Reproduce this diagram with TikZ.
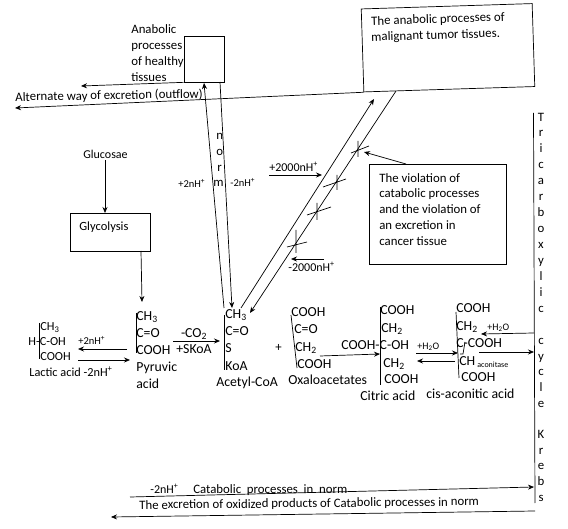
\documentclass[tikz,border=0pt]{standalone}
\usepackage{fontspec}
\setmainfont{Carlito}
\usepackage{tikz}
\usetikzlibrary{arrows.meta, positioning, calc}
\newcommand{\sbs}[1]{\textsubscript{#1}}
\newcommand{\nHp}{nH\textsuperscript{+}}

\begin{document}
\begin{tikzpicture}[>=Stealth, x=1pt, y=-1pt, line width=0.7pt,
    txt/.style={anchor=west, inner sep=0pt, text height=8pt, text depth=2.5pt, yshift=-1.5pt, font=\fontsize{12.8}{14}\selectfont},
    chem/.style={txt, font=\fontsize{13.8}{15}\selectfont},
    lac/.style={txt, font=\fontsize{12.3}{14}\selectfont},
    small/.style={txt, font=\fontsize{10.5}{12}\selectfont},
    water/.style={txt, font=\fontsize{10}{11}\selectfont},
    wide/.style={txt, font=\fontsize{12}{14}\selectfont},
    tiny/.style={txt, font=\fontsize{8}{9}\selectfont},
    box/.style={draw, inner sep=0pt},
    arr/.style={->, >={Stealth[length=6pt, width=5pt]}}]
  \useasboundingbox (0,0) rectangle (568,529);

  % boxes
  \node[box, minimum width=40pt, minimum height=46pt] (healthy) at (204,59) {};
  \node[box, minimum width=171pt, minimum height=83pt, rotate=1.8] (malignant) at (448,47.75) {};
  \node[box, minimum width=80pt, minimum height=38pt] (glycolysis) at (110,232) {};
  \node[box, minimum width=137pt, minimum height=100pt] (violation) at (438,214) {};

  % box texts
  \node[txt] (t1) at (131,29) {Anabolic};
  \node[txt] (t2) at (131,45) {processes};
  \node[txt] (t3) at (131,61) {of healthy};
  \node[txt] (t4) at (131,77) {tissues};
  \node[txt, rotate=1.8] (t5) at (371,21) {The anabolic processes of};
  \node[txt, rotate=1.8] (t6) at (371,37) {malignant tumor tissues.};
  \node[wide, font=\fontsize{12.5}{14}\selectfont] (t7) at (79,226) {Glycolysis};
  \node[txt] (t8) at (379,178) {The violation of};
  \node[txt] (t9) at (379,193) {catabolic processes};
  \node[txt] (t10) at (379,209) {and the violation of};
  \node[txt] (t11) at (379,225) {an excretion in};
  \node[txt] (t12) at (379,241) {cancer tissue};

  \node[txt, rotate=1] (outflow) at (15,97) {Alternate way of excretion (outflow)};
  \node[wide] (glucose) at (83,154) {Glucosae};

  % norm column
  \node[txt] (n1) at (216,135) {n};
  \node[txt] (n2) at (216,151) {o};
  \node[txt] (n3) at (217,167) {r};
  \node[txt] (n4) at (213,182) {m};
  \node[small] (plustwo) at (178,183) {+2\nHp};
  \node[small] (minustwo) at (230,182) {-2\nHp};
  \node[wide] (plusk) at (269,167) {+2000\nHp};
  \node[wide] (minusk) at (288,267) {-2000\nHp};

  % Tricarboxylic cycle Krebs
  \foreach \ltr/\yy in {T/117, r/132, i/148, c/164, a/180, r/196, b/212, o/228, x/244, y/260, l/276, i/292, c/308,
      c/340, y/356, c/371, l/387, e/403, K/434, r/450, e/465, b/481, s/497}
    \node[txt, anchor=center] at (541,\yy) {\ltr};

  % lactic acid
  \node[lac] (lac1) at (40,326) {CH\sbs{3}};
  \node[lac] (lac2) at (28,341) {H-C-OH};
  \node[lac] (lac3) at (40,356) {COOH};
  \node[lac] (lac4) at (29,372) {Lactic acid -2\nHp};
  \node[small] (lacp) at (78,340) {+2\nHp};

  % pyruvic acid
  \node[chem] (pyr1) at (136,316) {CH\sbs{3}};
  \node[chem] (pyr2) at (136,333) {C=O};
  \node[chem] (pyr3) at (136,350) {COOH};
  \node[chem] (pyr4) at (136,367) {Pyruvic};
  \node[chem] (pyr5) at (136,384) {acid};
  \node[chem, anchor=center] (co2) at (194,333) {-CO\sbs{2}};
  \node[chem, anchor=center] (skoa) at (194,349) {+SKoA};

  % acetyl-CoA
  \node[chem] (ace1) at (225,314) {CH\sbs{3}};
  \node[chem] (ace2) at (225,331) {C=O};
  \node[chem] (ace3) at (225,348) {S};
  \node[chem] (ace4) at (225,366) {KoA};
  \node[chem] (ace5) at (216,382) {Acetyl-CoA};
  \node[txt] (plus) at (275,347) {+};

  % oxaloacetates
  \node[chem] (oxa1) at (291,312) {COOH};
  \node[chem] (oxa2) at (294,329) {C=O};
  \node[chem] (oxa3) at (295,347) {CH\sbs{2}};
  \node[chem] (oxa4) at (297,364) {COOH};
  \node[chem] (oxa5) at (288,380) {Oxaloacetates};

  % citric acid
  \node[chem] (cit1) at (380,310) {COOH};
  \node[chem] (cit2) at (381,328) {CH\sbs{2}};
  \node[chem] (cit3) at (341,345) {COOH-C-OH};
  \node[chem] (cit4) at (383,363) {CH\sbs{2}};
  \node[chem] (cit5) at (384,379) {COOH};
  \node[chem] (cit6) at (360,396) {Citric acid};
  \node[water] (h2oa) at (417,345) {+H\sbs{2}O};

  % cis-aconitic acid
  \node[chem] (cis1) at (456,308) {COOH};
  \node[chem] (cis2) at (456,326) {CH\sbs{2}};
  \node[chem] (cis3) at (456,343) {C-COOH};
  \node[chem] (cis4) at (459,361) {CH};
  \node[tiny] (cis5) at (477,363) {aconitase};
  \node[chem] (cis6) at (461,377) {COOH};
  \node[chem] (cis7) at (426,394) {cis-aconitic acid};
  \node[water] (h2ob) at (487,326) {+H\sbs{2}O};

  % bottom
  \node[wide] (cat1) at (150,489) {-2\nHp};
  \node[txt] (cat2) at (193,489) {Catabolic\ \ processes\ \ in\ \ norm};
  \node[txt, rotate=0.6] (cat3) at (139,505) {The excretion of oxidized products of Catabolic processes in norm};

  % free ends
  \coordinate (a1) at (81,86);
  \coordinate (a2) at (15,108);
  \coordinate (a3) at (224,308);
  \coordinate (a4) at (204,83);
  \coordinate (a5) at (220,82);
  \coordinate (a6) at (232,308);
  \coordinate (a7) at (241,308);
  \coordinate (a8) at (374,99);
  \coordinate (a9) at (396,91);
  \coordinate (a10) at (250,313);
  \coordinate (a11) at (142,302);
  \coordinate (a12) at (141,251);
  \coordinate (glu) at (105,160);
  \coordinate (glyc) at (105,213);

  % connectors
  \draw[arr] (healthy.south west) -- (a1);
  \draw[arr] (malignant.south west) -- (a2);
  \draw[arr] (glu) -- (glyc);
  \draw[arr] (a12) -- (a11);
  \draw[arr] (a3) -- (a4);
  \draw[arr] (a5) -- (a6);
  \draw[arr] (a7) -- (a8);
  \draw[arr] (a9) -- (a10);
  \coordinate (v1) at (406,164);
  \coordinate (v2) at (364,152);
  \draw[arr] (v1) -- (v2);

  % crosses on the line
  \draw (358,141) -- (358,157) (351,153) -- (369,146);
  \draw (337,175) -- (337,190) (323,187) -- (346,179);
  \draw (317,203) -- (317,220) (307,215) -- (331,207);
  \draw (296,230) -- (296,253) (287,247) -- (307,242);

  \coordinate (b1) at (269,175); \coordinate (b2) at (322,175);
  \coordinate (b3) at (324,259); \coordinate (b4) at (291,259);
  \draw[arr] (b1) -- (b2);
  \draw[arr] (b3) -- (b4);

  % brackets
  \draw (39,323) -- (39,359);
  \draw (136,313) -- (136,353);
  \draw (224,315) -- (224,370);
  \draw (291,315) -- (297,368);
  \draw (380,307) -- (380,385);
  \draw (456,312) -- (459,378);
  \draw (465,342) -- (463,354) -- (460,354);
  \draw (533.5,113) -- (535,503);

  % reactions
  \coordinate (c1) at (127,349); \coordinate (c2) at (78,349);
  \coordinate (c3) at (78,360); \coordinate (c4) at (130,360);
  \coordinate (c5) at (173,341); \coordinate (c6) at (220,341);
  \coordinate (c7) at (320,356); \coordinate (c8) at (380,354);
  \coordinate (c9) at (416,353); \coordinate (c10) at (458,353);
  \coordinate (c11) at (455,361); \coordinate (c12) at (417,361);
  \coordinate (c13) at (534,333); \coordinate (c14) at (481,334);
  \coordinate (c15) at (479,352); \coordinate (c16) at (534,352);
  \coordinate (c17) at (130,497); \coordinate (c18) at (534,487);
  \coordinate (c19) at (535,511); \coordinate (c20) at (111,517);
  \foreach \from/\to in {c1/c2, c3/c4, c5/c6, c7/c8, c9/c10, c11/c12, c13/c14, c15/c16, c17/c18, c19/c20}
    \draw[arr] (\from) -- (\to);
\end{tikzpicture}
\end{document}
